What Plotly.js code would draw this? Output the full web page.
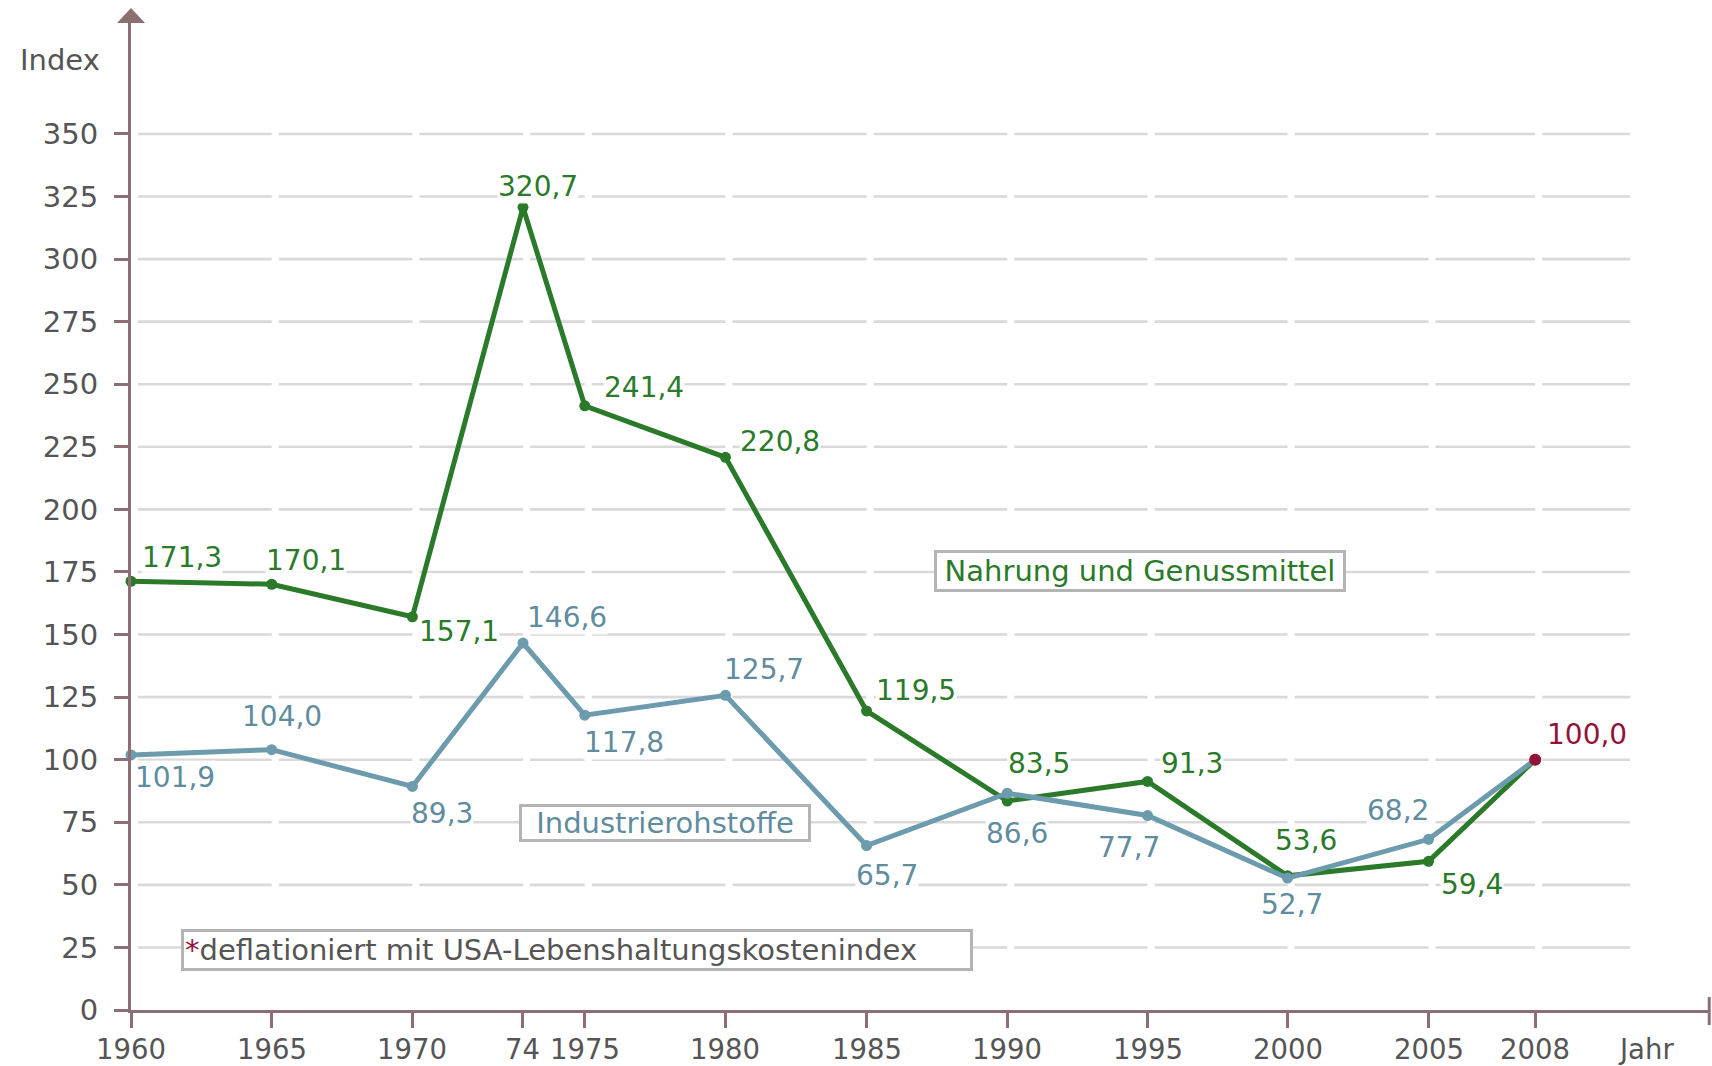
<!DOCTYPE html>
<html>
<head>
<meta charset="utf-8">
<script src="https://cdn.plot.ly/plotly-3.0.1.min.js"></script>
<style>
html,body{margin:0;padding:0;background:#fff;}
#chart{width:1712px;height:1066px;}
</style>
</head>
<body>
<div id="chart"></div>
<script>
// ---------- data ----------
const years = ['1960','1965','1970','74','1975','1980','1985','1990','1995','2000','2005','2008'];
const nahrung = [171.3,170.1,157.1,320.7,241.4,220.8,119.5,83.5,91.3,53.6,59.4,100.0];
const industrie = [101.9,104.0,89.3,146.6,117.8,125.7,65.7,86.6,77.7,52.7,68.2,100.0];
const yTicks = [0,25,50,75,100,125,150,175,200,225,250,275,300,325,350];
const nahrungName = 'Nahrung und Genussmittel';
const industrieName = 'Industrierohstoffe';
const footnote = 'deflationiert mit USA-Lebenshaltungskostenindex';

// ---------- scale of the (uneven) year axis ----------
const xScale = {'1960':0,'1965':1,'1970':2,'74':2.786,'1975':3.225,'1980':4.225,'1985':5.228,
  '1990':6.228,'1995':7.225,'2000':8.22,'2005':9.222,'2008':9.98};
const xs = years.map(y => xScale[y]);

// ---------- styles ----------
const FONT = 'DejaVu Sans, Verdana, sans-serif';
const FS = 29;
const green = '#2A7A2A';
const blue = '#6B9BAC';
const blueText = '#5F8C9E';
const red = '#931238';
const axisCol = '#8C6F75';
const gridCol = '#D9D9D9';
const textCol = '#555555';

// label offsets (px) relative to points
const gOff = [[51,-24],[34,-24],[47,15],[15,-21],[59,-18],[55,-16],[49,-20],[32,-38],[44,-18],[18,-35],[43,23],[52,-25]];
const bOff = [[44,23],[10,-33],[30,27],[44,-26],[39,27],[39,-26],[20,30],[10,40],[-19,32],[4,26],[-31,-29]];

const fmt = v => v.toFixed(1).replace('.', ',');

// gridlines: segments between ticks with small gaps
const gx = [], gy = [];
const gap = 0.05, gridEnd = 10.654;
yTicks.filter(v => v > 0).forEach(v => {
  const starts = [gap].concat(xs.slice(1).map(p => p + gap));
  const ends = xs.slice(1).concat([gridEnd]);
  for (let i = 0; i < starts.length; i++) {
    gx.push(starts[i], ends[i], null);
    gy.push(v, v, null);
  }
});

const traces = [
  {x: gx, y: gy, mode: 'lines', line: {color: gridCol, width: 2.6}, hoverinfo: 'skip', showlegend: false},
  {x: xs, y: nahrung, mode: 'lines+markers', name: nahrungName,
   line: {color: green, width: 5}, marker: {color: green, size: 11}, showlegend: false, cliponaxis: false},
  {x: xs, y: industrie, mode: 'lines+markers', name: industrieName,
   line: {color: blue, width: 5}, marker: {color: blue, size: 11}, showlegend: false, cliponaxis: false},
  {x: [xs[xs.length - 1]], y: [nahrung[nahrung.length - 1]], mode: 'markers',
   marker: {color: red, size: 12}, showlegend: false, cliponaxis: false}
];

const ann = [];
nahrung.forEach((v, i) => {
  ann.push({x: xs[i], y: v, xref: 'x', yref: 'y', text: fmt(v), showarrow: false,
    xshift: gOff[i][0], yshift: -gOff[i][1], bgcolor: 'rgba(255,255,255,0.85)', borderpad: 0,
    font: {family: FONT, size: FS - 1, color: i === nahrung.length - 1 ? red : green}});
});
industrie.slice(0, industrie.length - 1).forEach((v, i) => {
  ann.push({x: xs[i], y: v, xref: 'x', yref: 'y', text: fmt(v), showarrow: false,
    xshift: bOff[i][0], yshift: -bOff[i][1], bgcolor: 'rgba(255,255,255,0.85)', borderpad: 0,
    font: {family: FONT, size: FS - 1, color: blueText}});
});
// x tick labels (placed as annotations to keep them inside the picture)
years.forEach((y, i) => {
  ann.push({x: xs[i], y: -0.0395, xref: 'x', yref: 'paper', xanchor: 'center', yanchor: 'middle',
    text: y, showarrow: false, font: {family: FONT, size: FS - 1.5, color: textCol}});
});
// series name boxes
ann.push({x: 7.171, y: 175.4, xref: 'x', yref: 'y', text: nahrungName, showarrow: false,
  bgcolor: '#fff', bordercolor: '#B4B4B4', borderwidth: 3, borderpad: 1, width: 404, height: 34,
  font: {family: FONT, size: FS, color: green}});
ann.push({x: 3.795, y: 74.7, xref: 'x', yref: 'y', text: industrieName, showarrow: false,
  bgcolor: '#fff', bordercolor: '#B4B4B4', borderwidth: 3, borderpad: 1, width: 284, height: 30,
  font: {family: FONT, size: FS, color: blueText}});
ann.push({x: 3.17, y: 24, xref: 'x', yref: 'y', showarrow: false,
  text: '<span style="color:' + red + '">*</span>' + footnote,
  bgcolor: '#fff', bordercolor: '#B4B4B4', borderwidth: 3, borderpad: 1, width: 784, height: 34,
  align: 'left', font: {family: FONT, size: FS, color: textCol}});
// axis titles
ann.push({x: -0.0184, y: 0.9596, xref: 'paper', yref: 'paper', xanchor: 'right', yanchor: 'middle',
  text: 'Index', showarrow: false, font: {family: FONT, size: FS, color: textCol}});
ann.push({x: 0.9595, y: -0.0395, xref: 'paper', yref: 'paper', xanchor: 'center', yanchor: 'middle',
  text: 'Jahr', showarrow: false, font: {family: FONT, size: FS - 1.5, color: textCol}});

const shapes = [
  {type: 'path', xref: 'paper', yref: 'paper', path: 'M -0.00887,0.997 L 0.00887,0.997 L 0,1.0121 Z',
   fillcolor: axisCol, line: {width: 0}},
  {type: 'line', xref: 'paper', yref: 'paper', x0: 0.9995, x1: 0.9995, y0: 0.0131, y1: -0.0152,
   line: {color: axisCol, width: 3}}
];

const layout = {
  width: 1712, height: 1066,
  margin: {l: 131, r: 2, t: 20, b: 56},
  paper_bgcolor: '#fff', plot_bgcolor: '#fff',
  showlegend: false,
  font: {family: FONT, size: FS, color: textCol},
  xaxis: {range: [0, 1579 / 140.7], showgrid: false, zeroline: false, showline: true,
    linecolor: axisCol, linewidth: 3, ticks: 'outside', ticklen: 15, tickwidth: 3, tickcolor: axisCol,
    tickmode: 'array', tickvals: xs, showticklabels: false, fixedrange: true},
  yaxis: {range: [0, 990 / 2.503], showgrid: false, zeroline: false, showline: true,
    linecolor: axisCol, linewidth: 3, ticks: 'outside', ticklen: 14, tickwidth: 3, tickcolor: axisCol,
    tickmode: 'array', tickvals: yTicks, ticktext: yTicks.map(String), ticklabelstandoff: 10,
    tickfont: {family: FONT, size: FS, color: textCol}, fixedrange: true},
  annotations: ann,
  shapes: shapes
};

Plotly.newPlot('chart', traces, layout, {displayModeBar: false, staticPlot: true});
</script>
</body>
</html>
